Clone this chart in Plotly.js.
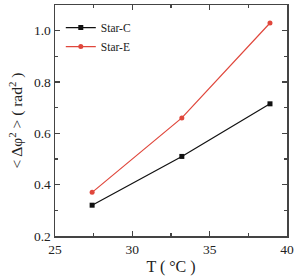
<!DOCTYPE html>
<html>
<head>
<meta charset="utf-8">
<script src="https://cdn.plot.ly/plotly-3.0.1.min.js"></script>
<style>html,body{margin:0;padding:0;background:#fff;}#chart{width:304px;height:279px;}</style>
</head>
<body>
<div id="chart"></div>
<script>
const temperature = [27.4, 33.2, 38.9];
const starC = [0.32, 0.51, 0.715];
const starE = [0.37, 0.66, 1.03];
const seriesNames = ["Star-C", "Star-E"];

const font = "Liberation Serif, Times New Roman, serif";
const axisColor = "#444";
const textColor = "#222";

const traces = [
  {x: temperature, y: starC, name: seriesNames[0], mode: "lines+markers",
   line: {color: "#111", width: 1.2}, marker: {symbol: "square", size: 5, color: "#111"}},
  {x: temperature, y: starE, name: seriesNames[1], mode: "lines+markers",
   line: {color: "#e0473c", width: 1.2}, marker: {symbol: "circle", size: 5, color: "#e0473c"}}
];

const layout = {
  width: 304, height: 279,
  margin: {l: 55, r: 17, t: 5, b: 43},
  paper_bgcolor: "#fff", plot_bgcolor: "#fff",
  font: {family: font, color: textColor, size: 13},
  showlegend: true,
  legend: {x: 0.025, y: 0.965, xanchor: "left", yanchor: "top", bgcolor: "rgba(0,0,0,0)",
    font: {family: font, size: 11.5, color: textColor}, tracegroupgap: 0, itemwidth: 30},
  xaxis: {
    range: [25, 40], dtick: 5, tick0: 25,
    showgrid: false, zeroline: false,
    showline: true, linecolor: axisColor, linewidth: 1.5, mirror: "ticks",
    ticks: "inside", ticklen: 5, tickcolor: axisColor, tickwidth: 1.2,
    minor: {dtick: 2.5, tick0: 25, ticks: "inside", ticklen: 3, tickcolor: axisColor, showgrid: false},
    tickfont: {family: font, size: 13.5, color: textColor},
    title: {text: "T ( °C )", font: {family: font, size: 16, color: textColor}, standoff: 5}
  },
  yaxis: {
    range: [0.2, 1.1], dtick: 0.2, tick0: 0.2, tickformat: ".1f",
    showgrid: false, zeroline: false,
    showline: true, linecolor: axisColor, linewidth: 1.5, mirror: "ticks",
    ticks: "inside", ticklen: 5, tickcolor: axisColor, tickwidth: 1.2,
    minor: {dtick: 0.1, tick0: 0.2, ticks: "inside", ticklen: 3, tickcolor: axisColor, showgrid: false},
    tickfont: {family: font, size: 13.5, color: textColor},
    title: {text: "< Δφ<sup>2</sup> > ( rad<sup>2</sup> )", font: {family: font, size: 15.5, color: textColor}, standoff: 7}
  }
};

Plotly.newPlot("chart", traces, layout, {displayModeBar: false, staticPlot: true});
</script>
</body>
</html>
